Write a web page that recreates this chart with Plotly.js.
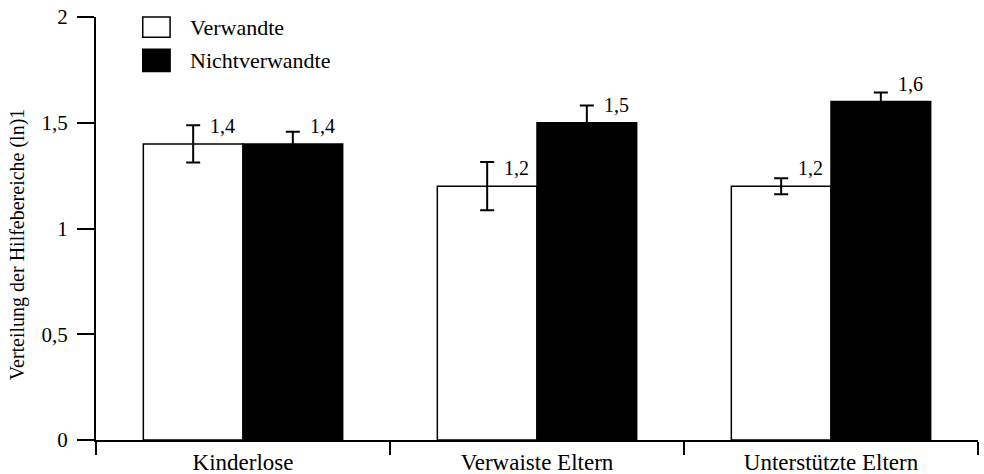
<!DOCTYPE html>
<html>
<head>
<meta charset="utf-8">
<script src="https://cdn.plot.ly/plotly-3.0.1.min.js"></script>
<style>html,body{margin:0;padding:0;background:#fff;}#chart{width:984px;height:474px;}</style>
</head>
<body>
<div id="chart"></div>
<script>
const categories = ["Kinderlose", "Verwaiste Eltern", "Unterstützte Eltern"];
const seriesNames = ["Verwandte", "Nichtverwandte"];
const verwandte = [1.4, 1.2, 1.2];
const verwandteErr = [0.088, 0.114, 0.038];
const nichtverwandte = [1.4, 1.5, 1.6];
const nichtverwandteErr = [0.057, 0.081, 0.043];
const yTicks = [0, 0.5, 1, 1.5, 2];
const yTitle = "Verteilung der Hilfebereiche (ln)1";

const FONT = '"Liberation Serif", "Times New Roman", Times, serif';
const bargap = 0.322;
const half = (1 - bargap) / 4;

function barTrace(name, vals, errs, fill) {
  return {
    type: "bar", name: name, x: categories, y: vals,
    marker: {color: fill, line: {color: "#000", width: 1.5}},
    error_y: {type: "data", array: errs, visible: true, color: "#000", thickness: 2, width: 7},
    showlegend: false, hoverinfo: "x+y"
  };
}

const data = [
  barTrace(seriesNames[0], verwandte, verwandteErr, "#ffffff"),
  barTrace(seriesNames[1], nichtverwandte, nichtverwandteErr, "#000000")
];

const fmt = v => v.toFixed(1).replace(".", ",");
const annotations = [];
[verwandte, nichtverwandte].forEach((vals, s) => {
  vals.forEach((v, j) => {
    annotations.push({
      x: j + (s === 0 ? -half : half), y: v, xref: "x", yref: "y",
      text: fmt(v), showarrow: false, xanchor: "left", yanchor: "middle",
      xshift: 15, yshift: 18, font: {family: FONT, size: 20, color: "#000"}
    });
  });
});

// y axis title, placed like the reference
annotations.push({xref: "paper", yref: "paper", x: -0.0895, y: 0.463, text: yTitle, textangle: -90,
  showarrow: false, xanchor: "center", yanchor: "middle", font: {family: FONT, size: 20, color: "#000"}});

// custom legend
const legendItems = [
  {name: seriesNames[0], fill: "#ffffff", y0: 0.952, y1: 1.0, ty: 0.976},
  {name: seriesNames[1], fill: "#000000", y0: 0.871, y1: 0.924, ty: 0.898}
];
const shapes = [];
legendItems.forEach(it => {
  shapes.push({type: "rect", xref: "paper", yref: "paper", x0: 0.053, x1: 0.084, y0: it.y0, y1: it.y1,
    fillcolor: it.fill, line: {color: "#000", width: 1.5}});
  annotations.push({xref: "paper", yref: "paper", x: 0.104, y: it.ty, text: it.name, showarrow: false,
    xanchor: "left", yanchor: "middle", font: {family: FONT, size: 22, color: "#000"}});
});

const layout = {
  width: 984, height: 474,
  margin: {l: 96, r: 6, t: 17, b: 34},
  paper_bgcolor: "#fff", plot_bgcolor: "#fff",
  separators: ",.",
  font: {family: FONT, color: "#000"},
  barmode: "group", bargap: bargap, bargroupgap: 0,
  xaxis: {
    type: "category", range: [-0.5, 2.5], tickson: "boundaries",
    ticks: "outside", ticklen: 13, tickwidth: 2, tickcolor: "#000",
    showline: true, linecolor: "#000", linewidth: 2, showgrid: false, zeroline: false,
    tickfont: {family: FONT, size: 23, color: "#000"}
  },
  yaxis: {
    range: [0, 2], tickvals: yTicks, ticks: "outside", ticklen: 17, tickwidth: 2, tickcolor: "#000",
    ticklabelstandoff: 5,
    showline: true, linecolor: "#000", linewidth: 2, showgrid: false, zeroline: false,
    tickfont: {family: FONT, size: 21, color: "#000"}
  },
  annotations: annotations,
  shapes: shapes
};

Plotly.newPlot("chart", data, layout, {displayModeBar: false, staticPlot: true});
</script>
</body>
</html>
